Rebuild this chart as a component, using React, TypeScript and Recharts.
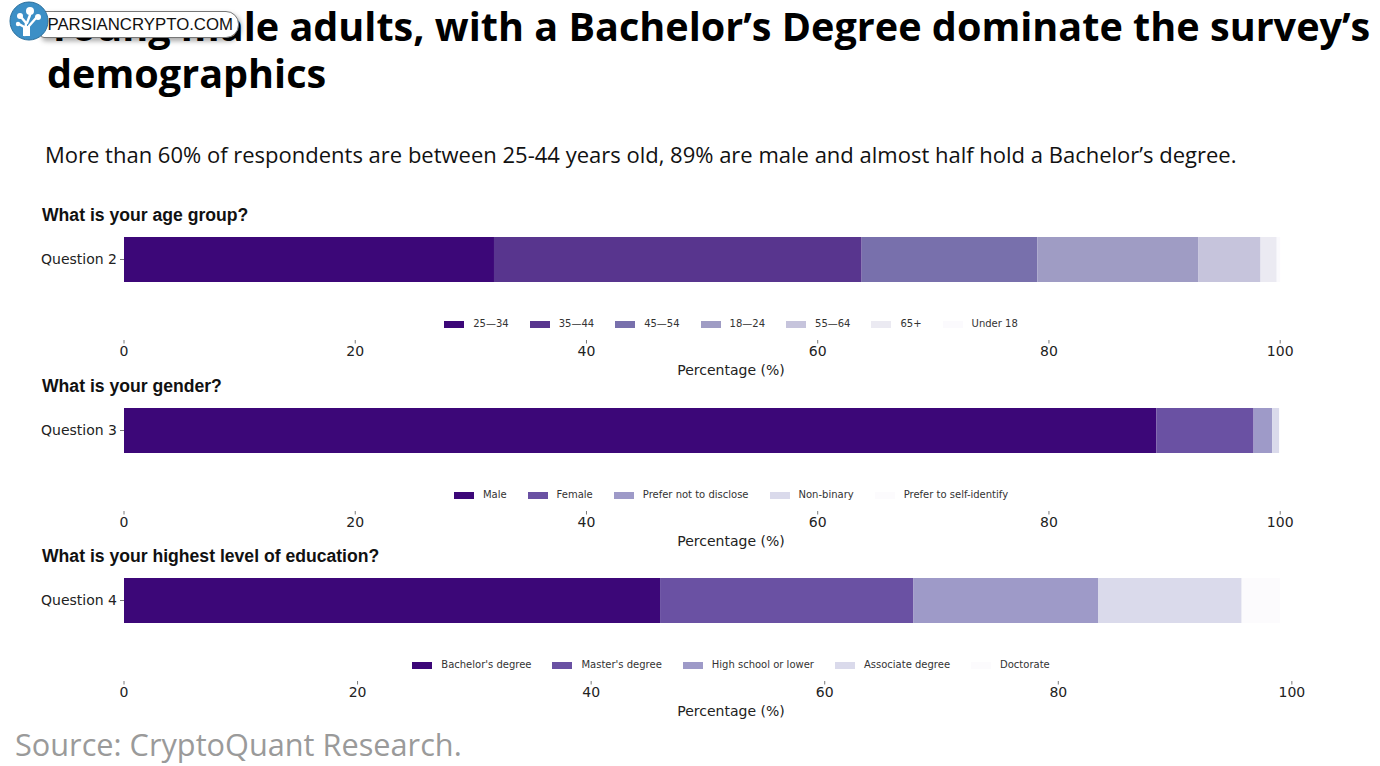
import React from 'react';
import { BarChart, Bar, XAxis, YAxis, Legend, Label } from 'recharts';

// --- data ---
const ageLabels = ['25—34', '35—44', '45—54', '18—24', '55—64', '65+', 'Under 18'];
const ageValues = [32.0, 31.8, 15.2, 13.9, 5.4, 1.4, 0.3];
const ageColors = ['#3c0778', '#58358e', '#7870ac', '#9f9cc4', '#c6c4dc', '#ebeaf2', '#fbfafd'];

const genderLabels = ['Male', 'Female', 'Prefer not to disclose', 'Non-binary', 'Prefer to self-identify'];
const genderValues = [89.3, 8.4, 1.6, 0.6, 0.1];

const eduLabels = ["Bachelor's degree", "Master's degree", 'High school or lower', 'Associate degree', 'Doctorate'];
const eduValues = [45.9, 21.7, 15.8, 12.3, 3.3];

const fiveColors = ['#3c0778', '#6a51a3', '#9e9ac8', '#dadaeb', '#fcfbfd'];
const xTicks = [0, 20, 40, 60, 80, 100];

const FONT = '"DejaVu Sans", sans-serif';

function XTick(props: any) {
  const { x, y, payload } = props;
  return (
    <g>
      <line x1={x} x2={x} y1={y + 55} y2={y + 58.5} stroke="#555" strokeWidth={0.8} />
      <text x={x} y={y + 71} textAnchor="middle" fontSize={14} fontFamily={FONT} fill="#222">
        {payload.value}
      </text>
    </g>
  );
}

function LegendRow({ labels, colors }: { labels: string[]; colors: string[] }) {
  return (
    <div style={{ display: 'flex', justifyContent: 'center', height: 12, alignItems: 'center' }}>
      {labels.map((l, i) => (
        <div key={l} style={{ display: 'flex', alignItems: 'center', marginRight: i < labels.length - 1 ? 21 : 0 }}>
          <div style={{ width: 20, height: 7, background: colors[i], marginRight: 9 }} />
          <span style={{ fontFamily: FONT, fontSize: 10, color: '#333', lineHeight: '12px', whiteSpace: 'nowrap' }}>{l}</span>
        </div>
      ))}
    </div>
  );
}

function Panel({ title, question, labels, values, colors, barTop, xMax }: {
  title: string; question: string; labels: string[]; values: number[]; colors: string[]; barTop: number; xMax: number;
}) {
  const row: Record<string, any> = { q: question };
  labels.forEach((l, i) => { row[l] = values[i]; });
  const top = barTop - 3;

  return (
    <>
      <div style={{ position: 'absolute', left: 42, top: barTop - 32, fontFamily: '"Liberation Sans", Arial, sans-serif', fontWeight: 700, fontSize: 17.6, lineHeight: '20px', color: '#111' }}>
        {title}
      </div>
      <div style={{ position: 'absolute', left: 0, top }}>
        <BarChart
          width={1380}
          height={151}
          data={[row]}
          layout="vertical"
          barCategoryGap={0}
          margin={{ top: 0, right: 42, bottom: 0, left: 0 }}
        >
          <XAxis
            type="number"
            domain={[0, xMax]}
            ticks={xTicks}
            axisLine={false}
            tickLine={false}
            tickSize={0}
            tickMargin={0}
            height={100}
            tick={<XTick />}
          >
            <Label
              content={(p: any) => {
                const vb = p.viewBox || {};
                return (
                  <text x={vb.x + vb.width / 2} y={vb.y + 90} textAnchor="middle" fontSize={14} fontFamily={FONT} fill="#222">
                    Percentage (%)
                  </text>
                );
              }}
            />
          </XAxis>
          <YAxis
            type="category"
            dataKey="q"
            width={124}
            axisLine={false}
            tickSize={4}
            tickMargin={3}
            tickLine={{ stroke: '#555', strokeWidth: 0.8 }}
            tick={{ fontSize: 14, fontFamily: FONT, fill: '#222' }}
          />
          <Legend
            verticalAlign="middle"
            align="center"
            wrapperStyle={{ top: 84, left: 124, width: 1214 }}
            content={() => <LegendRow labels={labels} colors={colors} />}
          />
          {labels.map((l, i) => (
            <Bar key={l} dataKey={l} stackId="a" fill={colors[i]} barSize={45} isAnimationActive={false} />
          ))}
        </BarChart>
      </div>
    </>
  );
}

export default function App() {
  return (
    <div style={{ position: 'absolute', left: 0, top: 0, width: 1380, height: 766, background: '#fff', overflow: 'hidden' }}>
      <div style={{ position: 'absolute', left: 47, top: 3, width: 1340, fontFamily: '"Open Sans", sans-serif', fontWeight: 700, fontSize: 39.6, lineHeight: '47px', color: '#000' }}>
        Young male adults, with a Bachelor’s Degree dominate the survey’s demographics
      </div>
      <div style={{ position: 'absolute', left: 45, top: 140, fontFamily: '"Open Sans", sans-serif', fontSize: 22, lineHeight: '28px', color: '#111', whiteSpace: 'nowrap' }}>
        More than 60% of respondents are between 25-44 years old, 89% are male and almost half hold a Bachelor’s degree.
      </div>

      <Panel title="What is your age group?" question="Question 2" labels={ageLabels} values={ageValues} colors={ageColors} barTop={237} xMax={105} />
      <Panel title="What is your gender?" question="Question 3" labels={genderLabels} values={genderValues} colors={fiveColors} barTop={408} xMax={105} />
      <Panel title="What is your highest level of education?" question="Question 4" labels={eduLabels} values={eduValues} colors={fiveColors} barTop={578} xMax={103.95} />

      <div style={{ position: 'absolute', left: 15, top: 726, fontFamily: '"Open Sans", sans-serif', fontSize: 30.7, lineHeight: '36px', color: '#9a9a9a' }}>
        Source: CryptoQuant Research.
      </div>

      {/* watermark badge */}
      <div style={{ position: 'absolute', left: 40, top: 11, width: 199, height: 27, background: '#fff', border: '1px solid #777', borderRadius: '4px 13px 13px 4px', boxShadow: '2px 3px 5px rgba(0,0,0,0.35)', display: 'flex', alignItems: 'center', justifyContent: 'flex-end', paddingRight: 5, boxSizing: 'border-box', fontFamily: '"Liberation Sans", Arial, sans-serif', fontSize: 16.8, color: '#111' }}>
        PARSIANCRYPTO.COM
      </div>
      <svg style={{ position: 'absolute', left: 8, top: 0 }} width={44} height={42}>
        <circle cx={21} cy={21} r={19} fill="#3c8fc6" stroke="#2b6f9c" strokeWidth={1} />
        <path d="M17 35 L18 23 L13 17 M19 23 L22 15 M21 26 L28 18 M18 28 L11 24" stroke="#fff" strokeWidth={2.4} fill="none" strokeLinecap="round" />
        <rect x={15} y={26} width={7} height={10} fill="#fff" />
        <circle cx={22} cy={11} r={4} fill="#fff" />
        <circle cx={12} cy={16} r={3} fill="#fff" />
        <circle cx={30} cy={17} r={3} fill="#fff" />
        <circle cx={10} cy={24} r={2.2} fill="#fff" />
      </svg>
    </div>
  );
}
